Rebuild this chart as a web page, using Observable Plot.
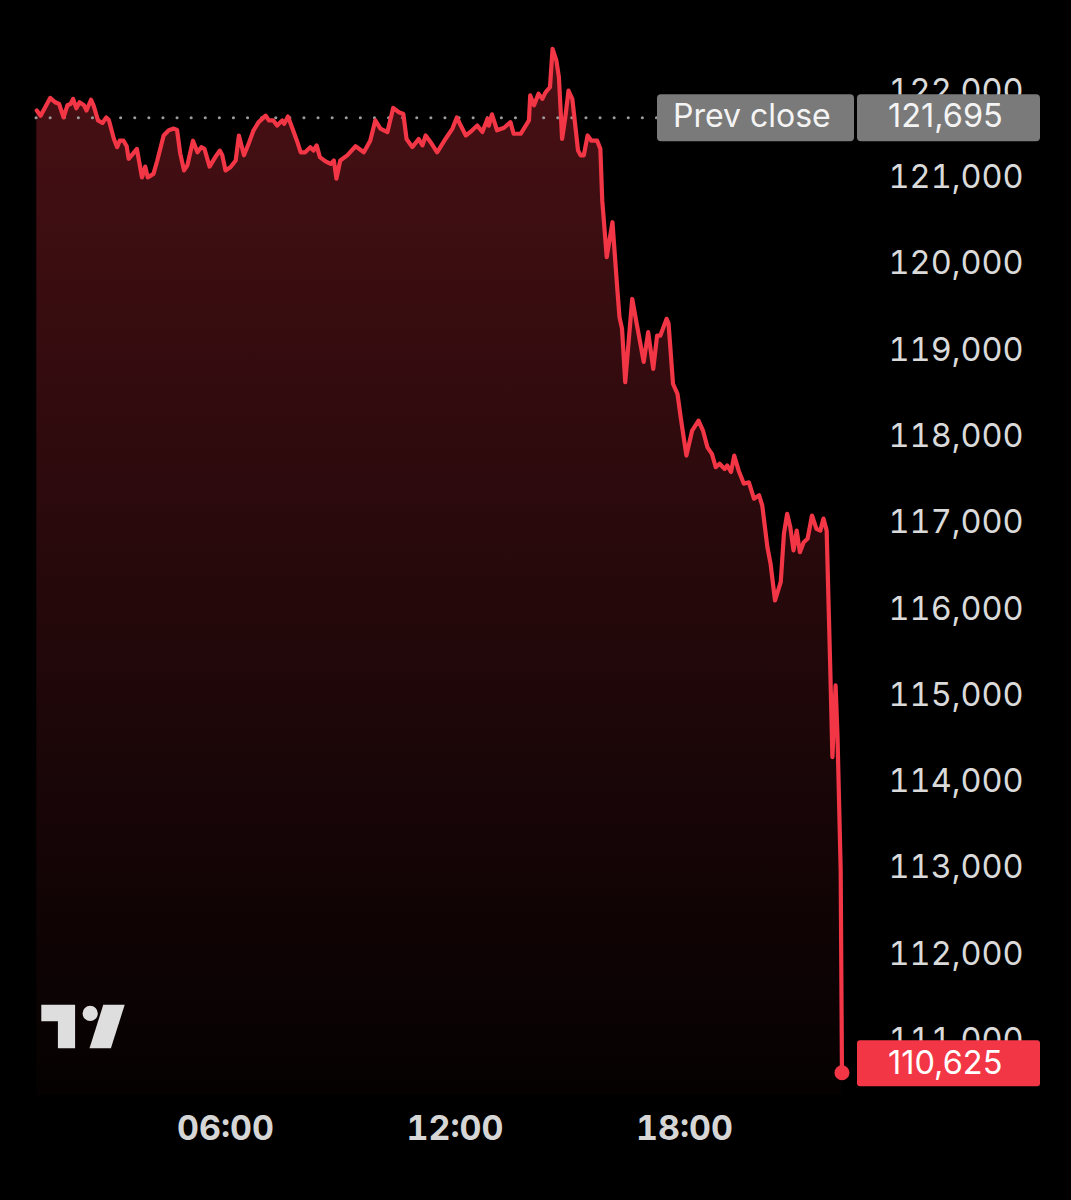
<!DOCTYPE html>
<html><head><meta charset="utf-8">
<script src="https://cdn.jsdelivr.net/npm/d3@7"></script>
<script src="https://cdn.jsdelivr.net/npm/@observablehq/plot@0.6"></script>
<style>
html,body{margin:0;padding:0;background:#000;}
</style></head><body><div id="chart"></div>
<script>
const times = [
"01:04","01:10","01:25","01:33","01:39","01:46","01:52","01:57","02:01","02:06",
"02:11","02:18","02:22","02:29","02:33","02:40","02:47","02:53","02:57","03:05",
"03:10","03:14","03:20","03:25","03:28","03:35","03:41","03:49","03:54","03:58",
"04:07","04:13","04:23","04:31","04:39","04:44","04:49","04:55","05:00","05:09",
"05:16","05:22","05:27","05:35","05:44","05:51","05:55","06:00","06:08","06:16",
"06:21","06:29","06:37","06:44","06:52","07:03","07:08","07:15","07:21","07:29",
"07:32","07:38","07:45","07:52","07:58","08:05","08:13","08:18","08:23","08:28",
"08:37","08:45","08:50","08:54","09:00","09:11","09:24","09:37","09:47","09:55",
"10:03","10:14","10:23","10:32","10:39","10:44","10:53","11:03","11:09","11:14",
"11:22","11:32","11:45","11:56","12:03","12:09","12:17","12:27","12:35","12:43",
"12:51","12:53","12:58","13:06","13:17","13:27","13:32","13:43","13:51","13:56",
"13:58","14:04","14:11","14:17","14:22","14:29","14:33","14:39","14:43","14:48",
"14:53","14:58","15:04","15:13","15:17","15:22","15:28","15:34","15:43","15:48",
"15:51","15:58","16:07","16:14","16:18","16:22","16:27","16:38","16:46","16:56",
"17:03","17:11","17:17","17:22","17:32","17:35","17:42","17:49","17:54","18:03",
"18:12","18:22","18:29","18:36","18:43","18:49","18:55","19:03","19:07","19:13",
"19:18","19:25","19:33","19:41","19:49","19:57","20:02","20:10","20:15","20:22",
"20:31","20:36","20:41","20:46","20:51","20:56","21:01","21:07","21:13","21:20",
"21:27","21:33","21:38","21:43","21:46","21:49","21:52","21:57","22:00","22:05",
"22:07"];
const prices = [
121780,121720,121925,121875,121855,121700,121840,121855,121915,121805,
121875,121840,121780,121905,121840,121665,121635,121700,121670,121450,
121355,121430,121430,121365,121220,121280,121335,121005,121130,121005,
121045,121200,121490,121550,121570,121555,121280,121085,121140,121430,
121295,121355,121335,121130,121240,121315,121260,121085,121125,121200,
121490,121260,121410,121550,121645,121720,121665,121665,121605,121665,
121625,121710,121570,121430,121295,121295,121355,121315,121375,121240,
121190,121160,121200,120990,121200,121260,121365,121295,121430,121665,
121570,121530,121810,121760,121740,121450,121355,121450,121375,121490,
121410,121295,121450,121570,121700,121605,121490,121550,121605,121530,
121685,121605,121735,121550,121580,121645,121510,121510,121605,121665,
121955,121840,121975,121915,121990,122050,122495,122360,122165,121450,
121700,122010,121915,121315,121260,121260,121490,121430,121430,121335,
120735,120080,120485,119770,119385,119250,118630,119595,119270,118865,
119210,118785,119170,119170,119365,119310,118610,118495,118225,117780,
118070,118185,118070,117875,117800,117645,117685,117625,117665,117590,
117780,117605,117455,117470,117280,117320,117200,116720,116525,116100,
116315,116875,117105,116950,116680,116910,116660,116775,116815,117085,
116930,116910,117050,116910,116060,115210,114285,115115,114535,112970,
110625];
const prevClose = 121695;
const lastPrice = 110625;
const yTicks = [111000,112000,113000,114000,115000,116000,117000,118000,119000,120000,121000,122000];
const xTicks = ["06:00","12:00","18:00"];
const baseline = 110360;

const day = "2025-10-10";
const parse = s => new Date(`${day}T${s}:00Z`);
const data = times.map((t, i) => ({date: parse(t), price: prices[i]}));
const last = data[data.length - 1];
const fmt = d3.format(",");
const RED = "#f23645";
const FONT = "Inter, 'Noto Sans', sans-serif";

const svgNS = "http://www.w3.org/2000/svg";
function el(tag, attrs, text) {
  const e = document.createElementNS(svgNS, tag);
  for (const k in attrs) e.setAttribute(k, attrs[k]);
  if (text != null) e.textContent = text;
  return e;
}
function gradientDefs() {
  const defs = el("defs", {});
  const lg = el("linearGradient", {id: "areaGrad", gradientUnits: "userSpaceOnUse", x1: 0, y1: 48, x2: 0, y2: 1095});
  lg.append(el("stop", {offset: "0", "stop-color": RED, "stop-opacity": 0.3}));
  lg.append(el("stop", {offset: "1", "stop-color": RED, "stop-opacity": 0.02}));
  defs.append(lg);
  return defs;
}
function priceTags(index, scales) {
  const g = el("g", {"font-family": FONT, "text-anchor": "start"});
  const yp = scales.y(prevClose);
  g.append(el("rect", {x: 657, y: yp - 23, width: 197, height: 47, rx: 4, fill: "#7a7a7a"}));
  g.append(el("rect", {x: 857, y: yp - 23, width: 183, height: 47, rx: 4, fill: "#7a7a7a"}));
  g.append(el("text", {x: 673, y: yp - 2, dy: "0.35em", fill: "#f4f4f4", "font-size": 32, "text-anchor": "start"}, "Prev close"));
  g.append(el("text", {x: 888, y: yp - 2, dy: "0.35em", fill: "#f4f4f4", "font-size": 32.5, "text-anchor": "start"}, fmt(prevClose)));
  const yl = scales.y(lastPrice);
  g.append(el("rect", {x: 857, y: yl - 32, width: 183, height: 46, rx: 3, fill: RED}));
  g.append(el("text", {x: 888, y: yl - 10, dy: "0.35em", fill: "#ffffff", "font-size": 32.5, "text-anchor": "start"}, fmt(lastPrice)));
  return g;
}
function logo() {
  const g = el("g", {fill: "#dedede"});
  g.append(el("path", {d: "M41.3,1004.8H75.1V1048.2H57.9V1021.3H41.3Z"}));
  g.append(el("circle", {cx: 90.2, cy: 1013.4, r: 7.6}));
  g.append(el("path", {d: "M103.3,1004.8H124.7L110.9,1048.2H89.5Z"}));
  return g;
}

const chart = Plot.plot({
  width: 1071,
  height: 1200,
  marginLeft: 36,
  marginRight: 230,
  marginTop: 48,
  marginBottom: 105,
  style: {background: "#000", color: "#d9d9d9", fontFamily: FONT, overflow: "visible"},
  x: {type: "utc", domain: [parse("00:00"), new Date(Date.UTC(2025, 9, 11, 0, 0))], range: [-4.5, 913.5]},
  y: {domain: [110000, 122000], range: [1126.24, 91]},
  marks: [
    gradientDefs,
    Plot.axisY(yTicks, {anchor: "right", tickSize: 0, tickPadding: 47, tickFormat: fmt, fontSize: 32.5, fill: "#dadada", label: null}),
    Plot.axisX(xTicks.map(parse), {anchor: "bottom", tickSize: 0, tickPadding: 20, tickFormat: d3.utcFormat("%H:%M"), fontSize: 34, fontWeight: "bold", fill: "#d6d6d6", label: null}),
    Plot.areaY(data, {x: "date", y1: baseline, y2: "price", fill: "url(#areaGrad)"}),
    Plot.ruleY([prevClose], {stroke: "#9a9a9a", strokeWidth: 3, strokeDasharray: "0.1 14", strokeLinecap: "round"}),
    Plot.lineY(data, {x: "date", y: "price", stroke: RED, strokeWidth: 4.2, strokeLinejoin: "round", strokeLinecap: "round"}),
    Plot.dot([last], {x: "date", y: "price", r: 7.5, fill: RED}),
    priceTags,
    logo
  ]
});
document.getElementById("chart").append(chart);
</script>
</body></html>
